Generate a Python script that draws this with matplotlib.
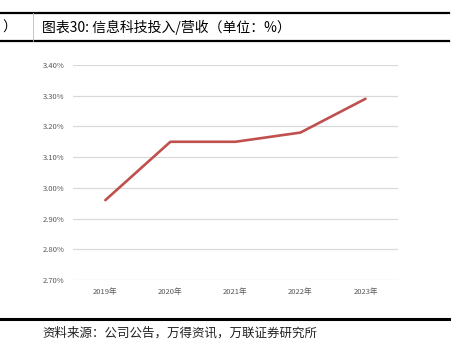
import matplotlib.pyplot as plt
from matplotlib.lines import Line2D
from matplotlib.ticker import FuncFormatter

plt.rcParams["font.family"] = ["Noto Sans CJK SC", "DejaVu Sans"]

years = ["2019年", "2020年", "2021年", "2022年", "2023年"]
ratio = [2.96, 3.15, 3.15, 3.18, 3.29]
y_ticks = [2.70, 2.80, 2.90, 3.00, 3.10, 3.20, 3.30, 3.40]

title = "图表30: 信息科技投入/营收（单位：%）"
source = "资料来源：公司公告，万得资讯，万联证券研究所"

fig = plt.figure(figsize=(4.58, 3.59), dpi=100)

# header / footer rules
fig.add_artist(Line2D([0, 0.98], [0.964, 0.964], color="black", lw=1.6))
fig.add_artist(Line2D([0, 0.98], [0.886, 0.886], color="black", lw=1.6))
fig.add_artist(Line2D([0.072, 0.072], [0.886, 0.964], color="#bbbbbb", lw=0.6))
fig.add_artist(Line2D([0, 0.98], [0.111, 0.111], color="black", lw=2.2))

# tail of the previous chart's title, clipped at the page edge as in the source
fig.text(0.036, 0.924, "）", ha="right", va="center", fontsize=10)
fig.text(0.092, 0.924, title, ha="left", va="center", fontsize=10)
fig.text(0.092, 0.072, source, ha="left", va="center", fontsize=9,
         color="#222222")

ax = fig.add_axes([0.159, 0.220, 0.710, 0.599])

x = list(range(len(years)))
ax.plot(x, ratio, color="#C0504D", lw=1.9, solid_capstyle="round")

ax.set_xlim(-0.5, len(years) - 0.5)
ax.set_ylim(y_ticks[0], y_ticks[-1])
ax.set_yticks(y_ticks)
ax.yaxis.set_major_formatter(FuncFormatter(lambda v, _: f"{v:.2f}%"))
ax.set_xticks(x)
ax.set_xticklabels(years)

ax.grid(axis="y", color="#d9d9d9", lw=0.9)
ax.set_axisbelow(True)
for side in ["top", "right", "left", "bottom"]:
    ax.spines[side].set_visible(False)
ax.tick_params(axis="both", length=0, labelsize=5.5, colors="#595959")
ax.tick_params(axis="y", pad=6)
ax.tick_params(axis="x", pad=6)

fig.savefig("out.png", dpi=100)
